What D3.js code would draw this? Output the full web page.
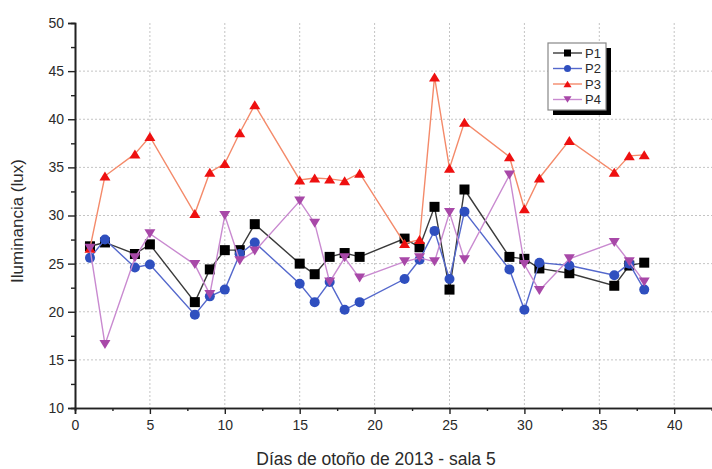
<!DOCTYPE html>
<html>
<head>
<meta charset="utf-8">
<script src="https://cdn.jsdelivr.net/npm/d3@7"></script>
<style>
  html, body { margin: 0; padding: 0; background: #fff; }
  svg { display: block; }
  text { font-family: "Liberation Sans", Arial, sans-serif; fill: #2a2a2a; }
</style>
</head>
<body>
<svg id="chart" width="712" height="469"></svg>
<script>
// Measurement days (autumn 2013, room 5)
const days = [1, 2, 4, 5, 8, 9, 10, 11, 12, 15, 16, 17, 18, 19, 22, 23, 24, 25, 26, 29, 30, 31, 33, 36, 37, 38];

// Illuminance (lux) per measuring point
const p1 = [26.8, 27.2, 26.0, 27.0, 21.0, 24.4, 26.4, 26.4, 29.1, 25.0, 23.9, 25.7, 26.1, 25.7, 27.6, 26.7, 30.9, 22.3, 32.7, 25.7, 25.5, 24.5, 24.0, 22.7, 24.8, 25.1];
const p2 = [25.6, 27.5, 24.6, 24.9, 19.7, 21.6, 22.3, 26.0, 27.2, 22.9, 21.0, 23.1, 20.2, 21.0, 23.4, 25.4, 28.4, 23.4, 30.4, 24.4, 20.2, 25.1, 24.8, 23.8, 25.0, 22.3];
const p3 = [26.6, 34.1, 36.4, 38.2, 30.2, 34.5, 35.4, 38.6, 41.5, 33.7, 33.9, 33.8, 33.6, 34.4, 27.1, 27.5, 44.4, 34.9, 39.7, 36.1, 30.7, 33.9, 37.8, 34.5, 36.2, 36.3];
const p4 = [26.6, 16.6, 25.6, 28.1, 24.9, 21.8, 30.0, 25.3, 26.3, 31.5, 29.2, 23.1, 25.6, 23.5, 25.2, 25.6, 25.2, 30.3, 25.4, 34.2, 24.9, 22.2, 25.5, 27.2, 25.2, 23.1];

const seriesNames = ["P1", "P2", "P3", "P4"];

// Axis ticks
const xTicks = [0, 5, 10, 15, 20, 25, 30, 35, 40];
const yTicks = [10, 15, 20, 25, 30, 35, 40, 45, 50];

const series = [
  { name: seriesNames[0], values: p1, line: "#3a3a3a", fill: "#000000", shape: "square" },
  { name: seriesNames[1], values: p2, line: "#5468cc", fill: "#2f4fbf", shape: "circle" },
  { name: seriesNames[2], values: p3, line: "#f48a6a", fill: "#ee1010", shape: "up" },
  { name: seriesNames[3], values: p4, line: "#c98ad0", fill: "#a848a8", shape: "down" }
];

const svg = d3.select("#chart");
const plotLeft = 75, plotTop = 23, plotBottom = 408;

const x = d3.scaleLinear().domain([0, 43]).range([plotLeft, plotLeft + 43 * 14.98]);
const y = d3.scaleLinear().domain([10, 50]).range([plotBottom, plotTop]);

// Dotted grid
const grid = svg.append("g").attr("stroke", "#c4c4c4").attr("stroke-width", 1)
  .attr("stroke-dasharray", "2,2");
grid.selectAll("line.v").data(xTicks.filter(d => d > 0)).join("line")
  .attr("class", "v")
  .attr("x1", d => x(d)).attr("x2", d => x(d))
  .attr("y1", plotTop).attr("y2", plotBottom);
grid.selectAll("line.h").data(yTicks.filter(d => d > 10 && d < 50)).join("line")
  .attr("class", "h")
  .attr("x1", plotLeft).attr("x2", 712)
  .attr("y1", d => y(d)).attr("y2", d => y(d));

// Axes
const xAxis = d3.axisBottom(x).tickValues(xTicks).tickSize(6).tickPadding(6);
const xMinor = d3.axisBottom(x).tickValues(d3.range(2.5, 43, 5)).tickSize(3).tickFormat("");
const yAxis = d3.axisLeft(y).tickValues(yTicks).tickSize(7).tickPadding(4);
const yMinor = d3.axisLeft(y).tickValues(d3.range(12.5, 50, 5)).tickSize(4).tickFormat("");

function styleAxis(g) {
  g.select(".domain").attr("stroke", "#222").attr("stroke-width", 1.6);
  g.selectAll(".tick line").attr("stroke", "#222").attr("stroke-width", 1.4);
  g.selectAll(".tick text").style("font-size", "14px").style("fill", "#2a2a2a")
    .style("font-family", "'Liberation Sans', Arial, sans-serif");
}

svg.append("g").attr("transform", `translate(0,${plotBottom})`).call(xMinor).call(styleAxis);
svg.append("g").attr("transform", `translate(0,${plotBottom})`).call(xAxis).call(styleAxis);
svg.append("g").attr("transform", `translate(${plotLeft},0)`).call(yMinor).call(styleAxis);
svg.append("g").attr("transform", `translate(${plotLeft},0)`).call(yAxis).call(styleAxis);

// Axis titles
svg.append("text").attr("x", 376).attr("y", 465).attr("text-anchor", "middle")
  .style("font-size", "17.5px").text("Días de otoño de 2013 - sala 5");
svg.append("text").attr("transform", "translate(23,221) rotate(-90)")
  .attr("text-anchor", "middle").style("font-size", "17px").text("Iluminancia (lux)");

// Marker shapes
function marker(g, shape, fill, cx, cy, s) {
  if (shape === "square") {
    g.append("rect").attr("x", cx - s / 2).attr("y", cy - s / 2)
      .attr("width", s).attr("height", s).attr("fill", fill);
  } else if (shape === "circle") {
    g.append("circle").attr("cx", cx).attr("cy", cy).attr("r", s / 2).attr("fill", fill);
  } else if (shape === "up") {
    const h = s * 0.9;
    g.append("path").attr("d", `M${cx},${cy - h / 2}L${cx + s / 2 + 0.5},${cy + h / 2}L${cx - s / 2 - 0.5},${cy + h / 2}Z`)
      .attr("fill", fill);
  } else {
    const h = s * 0.9;
    g.append("path").attr("d", `M${cx},${cy + h / 2}L${cx + s / 2 + 0.5},${cy - h / 2}L${cx - s / 2 - 0.5},${cy - h / 2}Z`)
      .attr("fill", fill);
  }
}

const line = d3.line().x(d => x(d[0])).y(d => y(d[1]));

series.forEach(s => {
  const pts = days.map((d, i) => [d, s.values[i]]);
  const g = svg.append("g");
  g.append("path").datum(pts).attr("d", line)
    .attr("fill", "none").attr("stroke", s.line).attr("stroke-width", 1.4);
  pts.forEach(p => marker(g, s.shape, s.fill, x(p[0]), y(p[1]), 10));
});

// Legend
const lg = svg.append("g");
const lx = 548, ly = 43, lw = 58, lh = 67;
lg.append("rect").attr("x", lx + 5).attr("y", ly + 5).attr("width", lw).attr("height", lh).attr("fill", "#000");
lg.append("rect").attr("x", lx).attr("y", ly).attr("width", lw).attr("height", lh)
  .attr("fill", "#fff").attr("stroke", "#888").attr("stroke-width", 1.2);
series.forEach((s, i) => {
  const yy = ly + 10 + i * 15.5;
  lg.append("line").attr("x1", lx + 5).attr("x2", lx + 34).attr("y1", yy).attr("y2", yy)
    .attr("stroke", s.line).attr("stroke-width", 1.4);
  marker(lg, s.shape, s.fill, lx + 19.5, yy, 7);
  lg.append("text").attr("x", lx + 37).attr("y", yy + 4.5).style("font-size", "13px").text(s.name);
});
</script>
</body>
</html>
